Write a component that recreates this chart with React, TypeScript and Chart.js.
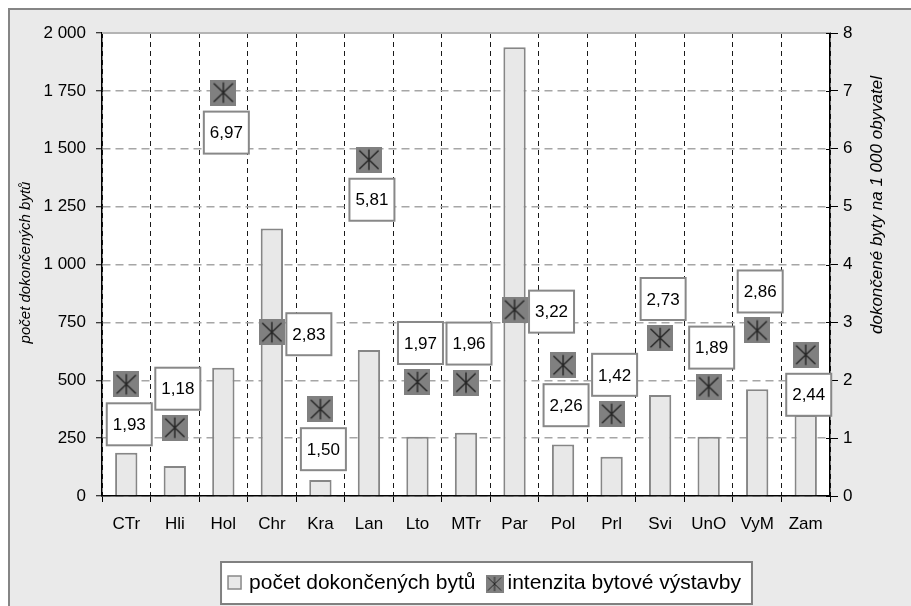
import React, { useEffect, useRef } from 'react';
import { Chart, registerables } from 'chart.js';

Chart.register(...registerables);

const categories = ['CTr', 'Hli', 'Hol', 'Chr', 'Kra', 'Lan', 'Lto', 'MTr', 'Par', 'Pol', 'Prl', 'Svi', 'UnO', 'VyM', 'Zam'];
const completedDwellings = [187, 130, 554, 1155, 69, 631, 256, 273, 1938, 223, 170, 436, 256, 461, 350];
const intensity = [1.93, 1.18, 6.97, 2.83, 1.5, 5.81, 1.97, 1.96, 3.22, 2.26, 1.42, 2.73, 1.89, 2.86, 2.44];
const labelPlacement = ['below', 'above', 'below', 'right', 'below', 'below', 'above', 'above', 'right', 'below', 'above', 'above', 'above', 'above', 'below'];
const seriesNames = ['počet dokončených bytů', 'intenzita bytové výstavby'];
const leftAxisTitle = 'počet dokončených bytů';
const rightAxisTitle = 'dokončené byty na 1 000 obyvatel';

const FONT = '"Liberation Sans", Arial, sans-serif';
Chart.defaults.font.family = FONT;

function formatThousands(v: number): string {
  if (v >= 1000) return `${Math.floor(v / 1000)} ${String(v % 1000).padStart(3, '0')}`;
  return String(v);
}

function makeMarker(size: number): HTMLCanvasElement {
  const c = document.createElement('canvas');
  c.width = size;
  c.height = size;
  const g = c.getContext('2d')!;
  g.fillStyle = '#808080';
  g.fillRect(0, 0, size, size);
  g.strokeStyle = '#262626';
  g.lineWidth = Math.max(1, size / 18);
  const m = size * 0.13;
  g.beginPath();
  g.moveTo(size / 2, m * 0.8);
  g.lineTo(size / 2, size - m * 0.8);
  g.moveTo(m, m * 1.1);
  g.lineTo(size - m, size - m * 1.1);
  g.moveTo(size - m, m * 1.1);
  g.lineTo(m, size - m * 1.1);
  g.stroke();
  return c;
}

export default function App() {
  const ref = useRef<HTMLCanvasElement>(null);

  useEffect(() => {
    const canvas = ref.current!;
    const marker = makeMarker(26);
    const legendMarker = makeMarker(18);

    const extras = {
      id: 'extras',
      beforeDraw(chart: any) {
        const { ctx, chartArea: a } = chart;
        ctx.save();
        ctx.fillStyle = '#ffffff';
        ctx.fillRect(a.left, a.top, a.right - a.left, a.bottom - a.top);
        ctx.restore();
      },
      beforeDatasetsDraw(chart: any) {
        const { ctx, chartArea: a } = chart;
        ctx.save();
        ctx.strokeStyle = '#B4B4B4';
        ctx.lineWidth = 2;
        ctx.beginPath();
        ctx.moveTo(a.left, a.top);
        ctx.lineTo(a.right, a.top);
        ctx.stroke();
        const y1 = chart.scales.y1;
        ctx.strokeStyle = '#000';
        ctx.lineWidth = 1;
        y1.ticks.forEach((t: any) => {
          const y = Math.round(y1.getPixelForValue(t.value)) + 0.5;
          ctx.beginPath();
          ctx.moveTo(a.right - 4, y);
          ctx.lineTo(a.right, y);
          ctx.stroke();
        });
        ctx.restore();
      },
      afterDatasetsDraw(chart: any) {
        const { ctx } = chart;
        const meta = chart.getDatasetMeta(1);
        ctx.save();
        ctx.font = `17px ${FONT}`;
        ctx.textAlign = 'center';
        ctx.textBaseline = 'middle';
        meta.data.forEach((pt: any, i: number) => {
          const place = labelPlacement[i];
          let cx = pt.x;
          let cy = pt.y;
          if (place === 'above') {
            cx += 3;
            cy -= 39;
          } else if (place === 'below') {
            cx += 3;
            cy += 40;
          } else {
            cx += 37;
            cy += 2;
          }
          const w = 45;
          const h = 42;
          ctx.fillStyle = '#ffffff';
          ctx.fillRect(cx - w / 2, cy - h / 2, w, h);
          ctx.strokeStyle = '#888888';
          ctx.lineWidth = 2;
          ctx.strokeRect(cx - w / 2, cy - h / 2, w, h);
          ctx.fillStyle = '#000';
          ctx.fillText(intensity[i].toFixed(2).replace('.', ','), cx, cy + 1);
        });
        ctx.restore();
      },
      afterDraw(chart: any) {
        const { ctx } = chart;
        ctx.save();
        ctx.fillStyle = '#000';
        ctx.textAlign = 'center';
        ctx.textBaseline = 'middle';
        ctx.font = `italic 15px ${FONT}`;
        ctx.translate(15.5, 252.5);
        ctx.rotate(-Math.PI / 2);
        ctx.fillText(leftAxisTitle, 0, 0);
        ctx.restore();

        ctx.save();
        ctx.fillStyle = '#000';
        ctx.textAlign = 'center';
        ctx.textBaseline = 'middle';
        ctx.font = `italic 17px ${FONT}`;
        ctx.translate(867, 195);
        ctx.rotate(-Math.PI / 2);
        ctx.fillText(rightAxisTitle, 0, 0);
        ctx.restore();

        ctx.save();
        ctx.font = `21px ${FONT}`;
        const w1 = ctx.measureText(seriesNames[0]).width;
        const w2 = ctx.measureText(seriesNames[1]).width;
        const total = 7 + 13 + 8 + w1 + 10 + 18 + 4 + w2 + 11;
        const left = chart.width / 2 - total / 2;
        const top = 552;
        const h = 42;
        ctx.fillStyle = '#ffffff';
        ctx.fillRect(left, top, total, h);
        ctx.strokeStyle = '#808080';
        ctx.lineWidth = 2;
        ctx.strokeRect(left, top, total, h);
        let x = left + 7;
        ctx.fillStyle = '#E8E8E8';
        ctx.fillRect(x, 566, 13, 13);
        ctx.strokeStyle = '#888888';
        ctx.lineWidth = 1.5;
        ctx.strokeRect(x, 566, 13, 13);
        x += 13 + 8;
        ctx.fillStyle = '#000';
        ctx.textAlign = 'left';
        ctx.textBaseline = 'alphabetic';
        ctx.fillText(seriesNames[0], x, 579);
        x += w1 + 10;
        ctx.drawImage(legendMarker, x, 565, 18, 18);
        x += 18 + 4;
        ctx.fillText(seriesNames[1], x, 579);
        ctx.restore();
      },
    };

    const chart = new Chart(canvas, {
      type: 'bar',
      data: {
        labels: categories,
        datasets: [
          {
            type: 'bar',
            label: seriesNames[0],
            data: completedDwellings,
            yAxisID: 'y',
            backgroundColor: '#E8E8E8',
            borderColor: '#868686',
            borderWidth: 2,
            categoryPercentage: 1,
            barPercentage: 0.46,
            order: 2,
          },
          {
            type: 'line',
            label: seriesNames[1],
            data: intensity,
            yAxisID: 'y1',
            showLine: false,
            pointStyle: marker,
            pointRadius: 13,
            pointHoverRadius: 13,
            order: 1,
          } as any,
        ],
      },
      options: {
        responsive: false,
        animation: false,
        events: [],
        layout: { padding: { top: 23, left: 0, right: 0, bottom: 0 } },
        plugins: { legend: { display: false }, tooltip: { enabled: false } },
        scales: {
          x: {
            offset: true,
            grid: { offset: true, color: '#1a1a1a', lineWidth: 1, tickLength: 6, tickColor: '#000', tickBorderDash: [], tickWidth: 1 },
            border: { display: true, color: '#000', width: 1.5, dash: [5, 4] },
            ticks: { font: { size: 17 }, color: '#000', padding: 12, maxRotation: 0, autoSkip: false },
            afterFit: (s: any) => { s.height = 110; },
          },
          y: {
            position: 'left',
            min: 0,
            max: 2000,
            ticks: { stepSize: 250, callback: (v: any) => formatThousands(Number(v)), font: { size: 17 }, color: '#000', padding: 10 },
            grid: { color: '#A6A6A6', lineWidth: 1.5, tickLength: 6, tickColor: '#000', tickWidth: 1, tickBorderDash: [] },
            border: { color: '#000', width: 1.5, dash: [8, 5] },
            afterFit: (s: any) => { s.width = 92; },
          },
          y1: {
            position: 'right',
            min: 0,
            max: 8,
            ticks: { stepSize: 1, font: { size: 17 }, color: '#000', padding: 5 },
            grid: { drawOnChartArea: false, tickLength: 8, tickColor: '#000', tickWidth: 1 },
            border: { color: '#000', width: 1.5 },
            afterFit: (s: any) => { s.width = 133; },
          },
        },
      } as any,
      plugins: [extras],
    });
    return () => chart.destroy();
  }, []);

  return (
    <div
      style={{
        position: 'fixed',
        left: 8,
        top: 8,
        width: 903,
        height: 598,
        overflow: 'hidden',
        boxSizing: 'border-box',
        borderTop: '2px solid #858585',
        borderLeft: '2px solid #858585',
        background: '#EAEAEA',
      }}
    >
      <canvas ref={ref} width={953} height={596} style={{ display: 'block' }} />
    </div>
  );
}
